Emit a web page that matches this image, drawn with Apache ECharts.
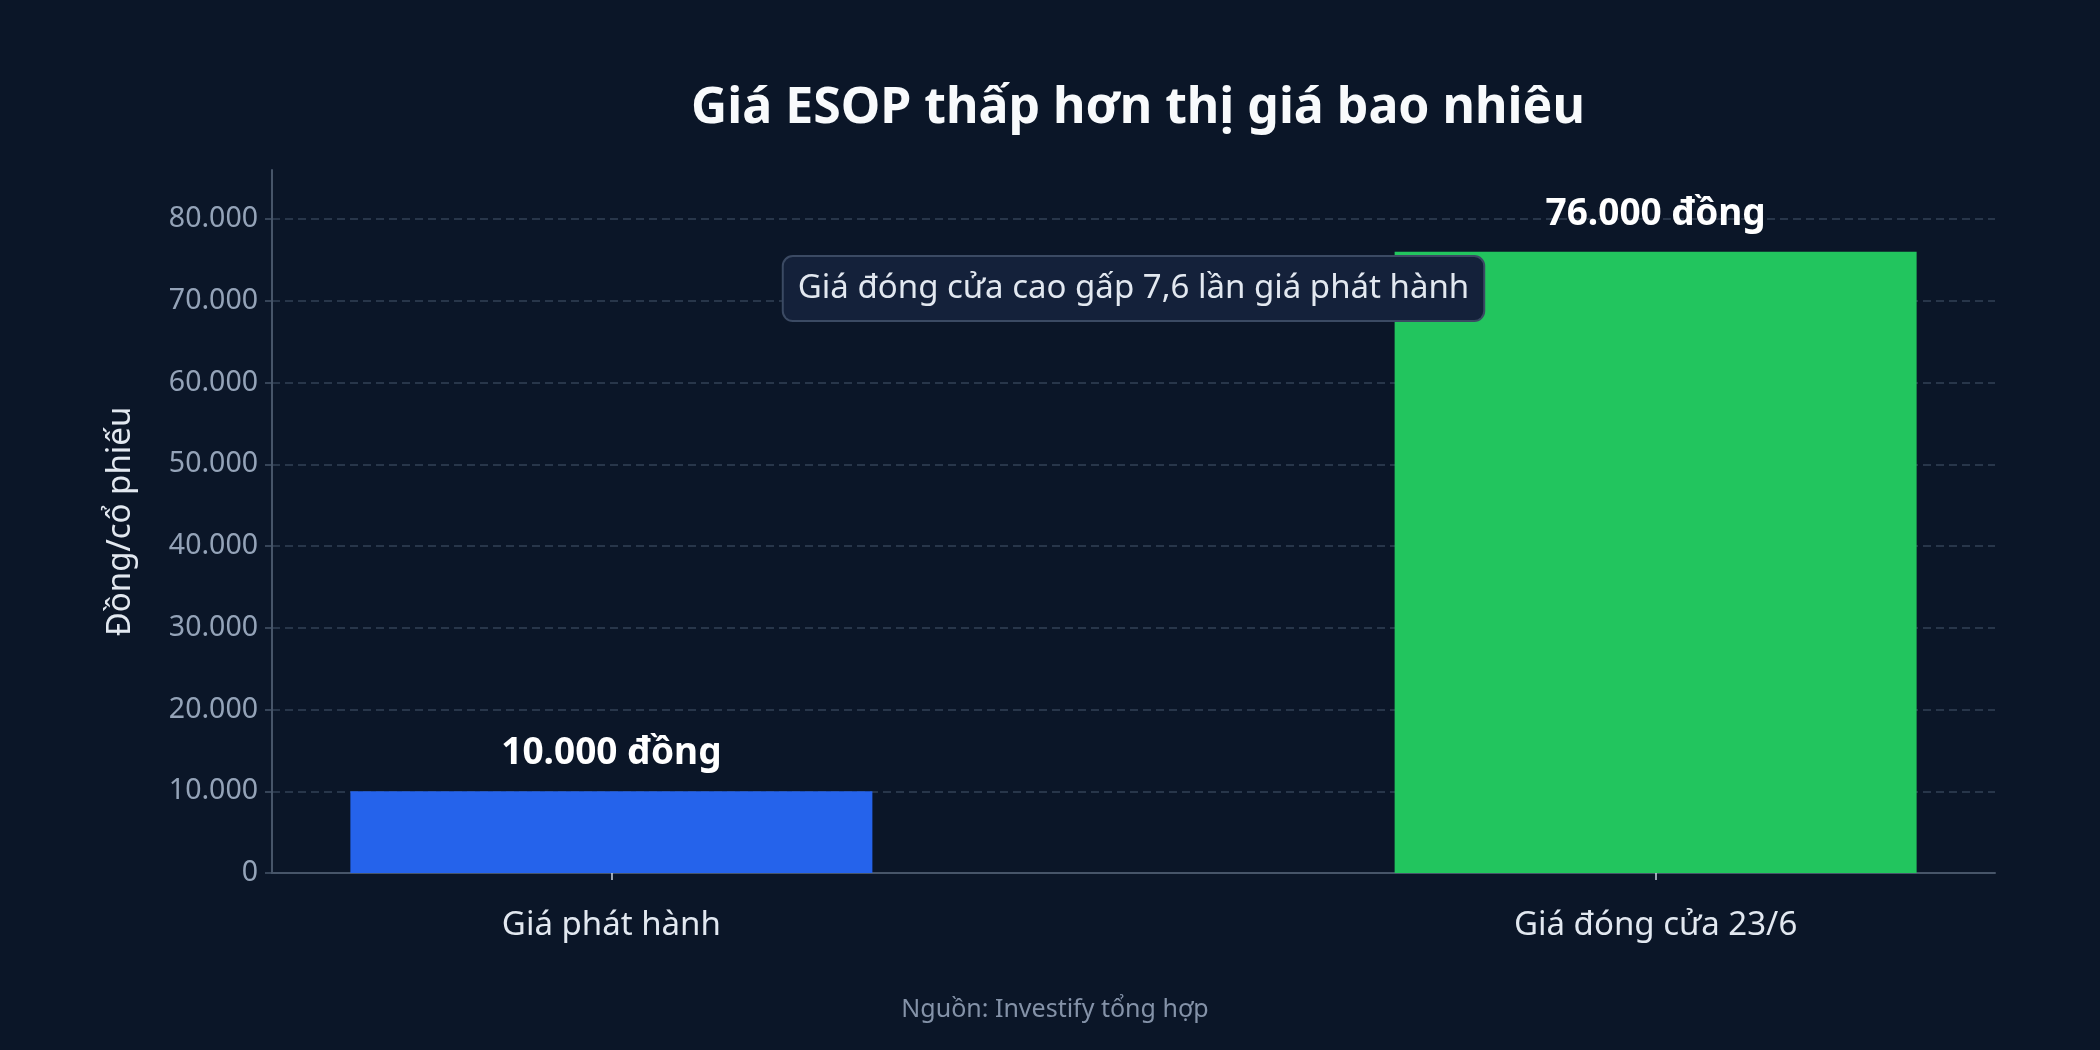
<!DOCTYPE html>
<html>
<head>
<meta charset="utf-8">
<script src="https://cdn.jsdelivr.net/npm/echarts@6/dist/echarts.min.js"></script>
<style>
html,body{margin:0;padding:0;background:#0b1628;}
#chart{width:2100px;height:1050px;}
</style>
</head>
<body>
<div id="chart"></div>
<script>
const categories = ['Giá phát hành', 'Giá đóng cửa 23/6'];
const prices = [10000, 76000];
const barColors = ['#2563eb', '#22c55e'];
const labelSuffix = ' đồng';
const yTicks = [0, 10000, 20000, 30000, 40000, 50000, 60000, 70000, 80000];
const titleText = 'Giá ESOP thấp hơn thị giá bao nhiêu';
const yAxisName = 'Đồng/cổ phiếu';
const noteText = 'Giá đóng cửa cao gấp 7,6 lần giá phát hành';
const noteCoord = [0.5, 71500];
const sourceText = 'Nguồn: Investify tổng hợp';

function fmt(v) {
  return String(v).replace(/\B(?=(\d{3})+(?!\d))/g, '.');
}

const FONT = 'Noto Sans';
const chart = echarts.init(document.getElementById('chart'));
chart.setOption({
  backgroundColor: '#0b1628',
  textStyle: { fontFamily: FONT },
  title: [
    {
      text: titleText,
      left: 1133, top: 79, textAlign: 'center',
      textStyle: { color: '#f8fafc', fontSize: 50, fontWeight: 'bold', fontFamily: FONT }
    },
    {
      text: sourceText,
      left: 1050, top: 992, textAlign: 'center',
      textStyle: { color: '#8492a8', fontSize: 25, fontWeight: 'normal', fontFamily: FONT }
    }
  ],
  grid: { left: 272, right: 105, top: 170, bottom: 177, containLabel: false },
  xAxis: {
    type: 'value',
    min: -0.325, max: 1.325,
    splitLine: { show: false },
    axisLine: { show: true, onZero: false, lineStyle: { color: '#475569', width: 2 } },
    axisTick: { show: true, customValues: [0, 1], length: 7, lineStyle: { color: '#cbd5e1', width: 1.5 } },
    axisLabel: {
      customValues: [0, 1],
      formatter: v => categories[Math.round(v)] || '',
      color: '#e2e8f0', fontSize: 33, margin: 36, fontFamily: FONT
    }
  },
  yAxis: {
    type: 'value',
    min: 0, max: 86000, interval: 10000,
    name: yAxisName,
    nameLocation: 'middle', nameGap: 135, nameRotate: 90,
    nameTextStyle: { color: '#e2e8f0', fontSize: 33, fontFamily: FONT },
    axisLine: { show: true, onZero: false, lineStyle: { color: '#475569', width: 2 } },
    axisTick: { show: true, customValues: yTicks, length: 7, lineStyle: { color: '#475569', width: 1.5 } },
    axisLabel: {
      customValues: yTicks,
      formatter: v => fmt(v),
      color: '#94a3b8', fontSize: 28.5, margin: 14, fontFamily: FONT
    },
    splitLine: {
      show: true,
      lineStyle: { color: '#334155', type: [8, 5], width: 1.5 }
    }
  },
  series: [{
    type: 'bar',
    barWidth: 522,
    data: prices.map((p, i) => ({ value: [i, p], itemStyle: { color: barColors[i] } })),
    label: {
      show: true, position: 'top', distance: 19,
      formatter: p => fmt(p.value[1]) + labelSuffix,
      color: '#ffffff', fontSize: 37, fontWeight: 'bold', fontFamily: FONT
    },
    markPoint: {
      symbol: 'rect', symbolSize: 0,
      silent: true,
      data: [{ coord: noteCoord, value: noteText }],
      label: {
        show: true, position: 'inside',
        formatter: noteText,
        color: '#e2e8f0', fontSize: 33, fontFamily: FONT,
        backgroundColor: '#14213a', borderColor: '#3b4a63', borderWidth: 2,
        borderRadius: 9, padding: [15, 14, 15, 14]
      }
    },
    z: 2
  }],
  animation: false
});
</script>
</body>
</html>
